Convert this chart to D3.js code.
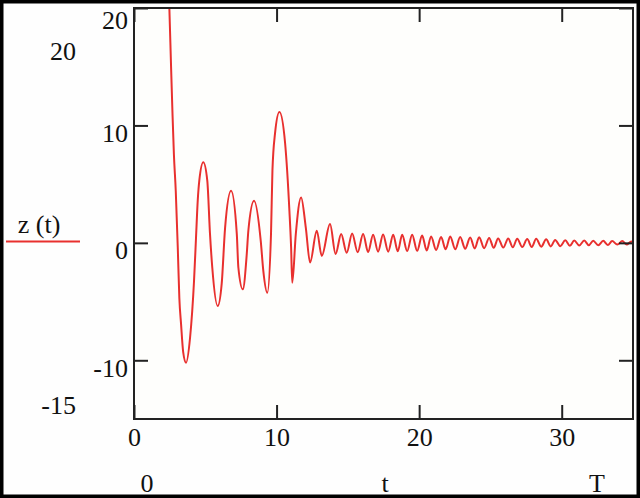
<!DOCTYPE html>
<html><head><meta charset="utf-8">
<script src="https://cdn.jsdelivr.net/npm/d3@7"></script>
<style>
html,body{margin:0;padding:0;background:#fff;}
svg{display:block;}
text{font-family:"Liberation Serif","Times New Roman",serif;fill:#111;}
</style></head>
<body>
<svg id="chart" width="640" height="498"></svg>
<script>
// ---- data ----
const tValues = [2.30, 2.48, 2.60, 2.70, 2.80, 2.93, 3.07, 3.18, 3.30, 3.45, 3.65,
  3.93, 4.21, 4.35, 4.47, 4.58, 4.86,
  5.14, 5.33, 5.49, 5.87,
  6.15, 6.39, 6.81,
  7.21, 7.32, 7.63,
  7.91, 8.02, 8.42,
  8.89, 9.07, 9.35,
  9.61, 9.71, 9.89, 10.20,
  10.60, 10.90, 11.02, 11.10,
  11.35, 11.72,
  12.05, 12.35, 12.82, 13.17, 13.75,
  14.14, 14.53, 14.92, 15.30, 15.69, 16.07, 16.42, 16.77, 17.12, 17.47, 17.83, 18.18,
  18.50, 18.81, 19.16, 19.51, 19.86, 20.21, 20.53, 20.84, 21.19, 21.54, 21.86, 22.18,
  22.53, 22.88, 23.23, 23.58, 23.90, 24.21, 24.56, 24.91, 25.23, 25.54, 25.90, 26.25,
  26.57, 26.88, 27.23, 27.58, 27.90, 28.21, 28.56, 28.91, 29.23, 29.54, 29.90, 30.25,
  30.57, 30.88, 31.23, 31.58, 31.90, 32.21, 32.56, 32.91, 33.23, 33.54, 33.90, 34.25,
  34.56, 34.88, 35.00];
const zValues = [26, 20, 15, 11, 7.5, 4.4, -0.4, -4.7, -6.9, -9.3, -10.2,
  -8.1, -3.25, 0.45, 3.6, 5.3, 6.86,
  5.3, 0.77, -2.1, -5.38,
  -3.5, 1.3, 4.44,
  0.77, -2.1, -3.96,
  -0.94, 1.03, 3.59,
  0.17, -2.39, -4.25,
  0.77, 6.15, 9.3, 11.14,
  8.46, 2.74, -0.4, -3.4,
  0.77, 3.87,
  1.3, -1.68, 1.03, -1.11, 1.6,
  -0.95, 0.75, -0.85, 0.8, -0.8, 0.75, -0.78, 0.7, -0.75, 0.72, -0.75, 0.7,
  -0.72, 0.68, -0.7, 0.7, -0.68, 0.62, -0.65, 0.55, -0.6, 0.5, -0.55, 0.55,
  -0.55, 0.5, -0.5, 0.45, -0.48, 0.48, -0.45, 0.42, -0.42, 0.38, -0.4, 0.38,
  -0.38, 0.35, -0.36, 0.32, -0.35, 0.35, -0.33, 0.3, -0.3, 0.25, -0.28, 0.22,
  -0.25, 0.2, -0.22, 0.2, -0.2, 0.18, -0.2, 0.17, -0.18, 0.15, -0.15, 0.15,
  -0.15, 0.12, 0];
const xTicks = [0, 10, 20, 30];
const yTicks = [20, 10, 0, -10];
const xDomain = [0, 35];
const yDomain = [-15, 20];
const legendLabel = "z (t)";
const xName = "t";
const xLowLabel = "0";
const xHighLabel = "T";
const yHighLabel = "20";
const yLowLabel = "-15";

// ---- layout ----
const svg = d3.select("#chart");
const L = 134, R = 633, T = 8, B = 419;
const x = d3.scaleLinear().domain(xDomain).range([L, R]);
const y = d3.scaleLinear().domain(yDomain).range([B, T]);
const fmt = d => String(d);

// page border
svg.append("rect").attr("x", 0).attr("y", 0).attr("width", 640).attr("height", 498).attr("fill", "#fefefe");
svg.append("rect").attr("x", 1.75).attr("y", 1.75).attr("width", 636.5).attr("height", 494.5)
  .attr("fill", "none").attr("stroke", "#000").attr("stroke-width", 3.5);

// plot background
svg.append("rect").attr("x", L).attr("y", T).attr("width", R - L).attr("height", B - T).attr("fill", "#fefefc");

// clip
svg.append("clipPath").attr("id", "clip").append("rect")
  .attr("x", L).attr("y", T).attr("width", R - L).attr("height", B - T);

// curve
const data = tValues.map((t, i) => ({t, z: zValues[i]}));
const line = d3.line().x(d => x(d.t)).y(d => y(d.z)).curve(d3.curveMonotoneX);
svg.append("path").datum(data).attr("clip-path", "url(#clip)")
  .attr("d", line).attr("fill", "none").attr("stroke", "#e8302e").attr("stroke-width", 2);

// axes with inward ticks
const tickLen = 14;
const axB = svg.append("g").attr("transform", `translate(0,${B})`)
  .call(d3.axisBottom(x).tickValues(xTicks).tickSizeInner(-tickLen).tickSizeOuter(0).tickPadding(9).tickFormat(fmt));
const axT = svg.append("g").attr("transform", `translate(0,${T})`)
  .call(d3.axisTop(x).tickValues(xTicks).tickSizeInner(-tickLen).tickSizeOuter(0).tickFormat(""));
const axL = svg.append("g").attr("transform", `translate(${L},0)`)
  .call(d3.axisLeft(y).tickValues(yTicks).tickSizeInner(-tickLen).tickSizeOuter(0).tickPadding(6).tickFormat(fmt));
const axR = svg.append("g").attr("transform", `translate(${R},0)`)
  .call(d3.axisRight(y).tickValues(yTicks).tickSizeInner(-tickLen).tickSizeOuter(0).tickFormat(""));
[axB, axT, axL, axR].forEach(a => {
  a.select(".domain").remove();
  a.selectAll(".tick line").attr("stroke", "#222").attr("stroke-width", 2);
  a.selectAll("text").attr("font-family", "Liberation Serif").attr("font-size", 26).attr("fill", "#111");
});
axL.selectAll(".tick text").attr("dy", d => d === 20 ? "0.77em" : "0.62em");
axB.selectAll(".tick text").attr("dy", "0.71em");

// frame
svg.append("rect").attr("x", L).attr("y", T).attr("width", R - L).attr("height", B - T)
  .attr("fill", "none").attr("stroke", "#222").attr("stroke-width", 2);

// limit labels
const lab = (txt, xx, yy, anchor) => svg.append("text").attr("x", xx).attr("y", yy)
  .attr("text-anchor", anchor).attr("font-size", 26).text(txt);
lab(yHighLabel, 76, 60, "end");
lab(yLowLabel, 76, 414, "end");
lab(xLowLabel, 147, 492, "middle");
lab(xName, 385, 492, "middle");
lab(xHighLabel, 597, 492, "middle");

// legend
lab(legendLabel, 39, 233, "middle");
svg.append("line").attr("x1", 6).attr("x2", 80).attr("y1", 241.5).attr("y2", 241.5)
  .attr("stroke", "#e8302e").attr("stroke-width", 2);
</script>
</body></html>
